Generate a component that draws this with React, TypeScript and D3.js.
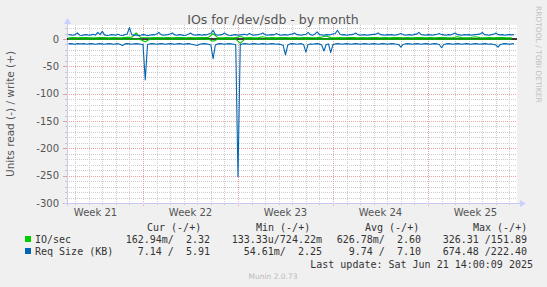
import React, { useEffect, useRef } from 'react';
import * as d3 from 'd3';

const WIDTH = 547;
const HEIGHT = 287;

// IO/sec sampled every 8 hours, Req Size every 4 hours, both from here
const seriesStart = new Date(2025, 4, 20, 12, 0);
const ioStepHours = 8;
const reqStepHours = 4;

const ioWrite = [
  2.4, 2.6, 2.3, 2.5, 2.8, 2.4, 2.3, 2.7, 2.5, 2.4,
  2.6, 2.3, 2.5, 2.9, 3.2, 11, 2.6, 2.4, 2.3, 2.5,
  2.7, 2.4, 2.6, 2.3, 2.5, 2.8, 2.4, 2.6, 2.3, 2.5,
  2.7, 3.0, 10, 2.5, 2.4, 2.6, 2.3, 2.5, 4.5, 2.4,
  2.6, 2.3, 2.5, 4.0, 2.4, 2.6, 2.3, 2.5, 2.7, 2.4,
  2.6, 2.3, 2.5, 2.8, 2.4, 2.6, 3.5, 5.5, 2.5, 2.4,
  2.6, 2.3, 2.5, 2.7, 2.4, 2.6, 2.3, 2.5, 2.8, 2.4,
  2.6, 2.3, 2.5, 2.7, 2.4, 2.6, 2.3, 2.5, 2.8, 2.4,
  2.6, 2.3, 2.5, 2.7, 2.4, 2.6, 4.2, 2.5, 2.4, 2.6,
  4.0, 2.5, 2.3, 2.6, 2.4, 2.5, 2.7, 2.3, 2.4
];

const ioRead = [
  -0.3, -0.2, -0.4, -0.2, -0.3, -0.2, -0.3, -0.5, -0.2, -0.3,
  -0.2, -0.4, -0.3, -0.2, -0.3, -0.2, -1.5, -5, -0.3, -0.2,
  -0.3, -0.2, -0.4, -0.2, -0.3, -0.2, -0.3, -0.4, -0.2, -0.3,
  -0.2, -0.6, -4, -0.3, -0.2, -0.3, -0.2, -0.4, -8, -0.3,
  -0.2, -0.3, -0.2, -0.4, -0.2, -0.3, -0.2, -0.3, -0.4, -0.2,
  -0.3, -0.2, -0.3, -0.2, -0.4, -0.2, -0.3, -0.2, -0.3, -0.2,
  -0.3, -0.2, -0.4, -0.2, -0.3, -0.2, -0.3, -0.2, -0.4, -0.2,
  -0.3, -0.2, -0.3, -0.2, -0.4, -0.2, -0.3, -0.2, -0.3, -0.2,
  -0.3, -0.2, -0.4, -0.2, -0.3, -0.2, -0.3, -0.2, -0.3, -0.2,
  -0.4, -0.2, -0.3, -0.2, -0.3, -0.2, -0.3, -0.2, -0.3
];

const reqWrite = [
  8, 7.5, 7, 8, 11, 7, 6.5, 7.5, 8, 7,
  7.5, 8.5, 7, 12, 8, 14, 7.5, 6.5, 7, 8,
  7.5, 7, 8.5, 7, 6.5, 8, 9, 21, 8, 7,
  7.5, 6.5, 7, 8, 7.5, 6, 7, 8, 7.5, 9,
  12, 8, 7, 7.5, 8, 9, 11, 7.5, 7, 8,
  7.5, 6.5, 7, 8.5, 11, 8, 7, 7.5, 8, 7,
  8, 7.5, 9, 10, 16, 8, 7, 7.5, 8, 11,
  8, 7, 6.5, 7.5, 8, 7, 7.5, 8, 8.5, 7,
  10, 8, 7, 7.5, 8, 9, 11, 8, 7, 7.5,
  8, 7.5, 10, 8, 7, 7.5, 8, 7, 8.5, 9,
  11, 8, 7.5, 7, 8, 8.5, 12, 8, 7, 9,
  13, 8, 7.5, 7, 8, 7.5, 8, 9, 10, 16,
  9, 7.5, 8, 7, 7.5, 8, 8.5, 11, 8, 7,
  7.5, 8, 7, 7.5, 8, 8.5, 9, 11, 8, 7.5,
  7, 8, 7.5, 8, 7, 7.5, 8.5, 10, 8, 7,
  7.5, 8, 7, 8.5, 9, 12, 8, 7.5, 7, 8,
  7.5, 7, 8, 8.5, 10, 8, 7.5, 7, 8, 7.5,
  9, 11, 8, 7.5, 7, 8, 7.5, 8, 7, 7.5,
  8, 8.5, 9, 12, 8, 7.5, 7, 8, 8.5, 11,
  8, 7.5, 8, 7, 7.5, 8, 7.5, 8
];

const reqRead = [
  -9, -8.5, -9, -9.5, -8.5, -9, -9, -8.5, -9.5, -9,
  -8.5, -9, -9.5, -9, -8.5, -9, -9.5, -9, -8.5, -9,
  -9.5, -9, -8.5, -10, -12, -9, -8.5, -9, -9.5, -9,
  -8.5, -9, -9.5, -10, -75, -10, -9, -8.5, -9, -9.5,
  -9, -8.5, -9, -9.5, -9, -8.5, -9, -9.5, -9, -8.5,
  -9, -9.5, -9, -8.5, -9, -10, -11, -12, -9.5, -9,
  -8.5, -9, -9.5, -11, -36, -11, -9, -8.5, -9, -9.5,
  -9, -8.5, -9, -9.5, -10, -252, -10, -9, -8.5, -9,
  -9.5, -9, -8.5, -9, -9.5, -9, -8.5, -9, -9.5, -9,
  -8.5, -9, -9.5, -9, -10, -12, -29, -11, -9, -8.5,
  -9, -9.5, -9, -8.5, -10, -24, -10, -9, -9.5, -9,
  -8.5, -9, -11, -22, -10, -9, -25, -10, -9, -8.5,
  -9, -9.5, -9, -8.5, -9, -9.5, -9, -8.5, -9, -9.5,
  -9, -8.5, -9, -9.5, -9, -8.5, -9, -9.5, -9, -8.5,
  -9, -9.5, -9, -8.5, -9, -9.5, -10, -15, -10, -9,
  -8.5, -9, -9.5, -9, -8.5, -9, -9.5, -9, -8.5, -9,
  -9.5, -9, -8.5, -9, -10, -16, -10, -9, -8.5, -9,
  -9.5, -9, -8.5, -9, -9.5, -9, -8.5, -9, -9.5, -9,
  -8.5, -9, -9.5, -9, -8.5, -9, -9.5, -9, -10, -11,
  -15, -10, -9, -8.5, -9, -9.5, -9, -8.5
];

const yTicks = [0, -50, -100, -150, -200, -250, -300];

const legendLabels = ['IO/sec', 'Req Size (KB)'];
const legendColors = ['#00cc00', '#0066b3'];
const legendHeaders = ['Cur (-/+)', 'Min (-/+)', 'Avg (-/+)', 'Max (-/+)'];
const curValues = ['162.94m/  2.32', '7.14 /  5.91'];
const minValues = ['133.33u/724.22m', '54.61m/  2.25'];
const avgValues = ['626.78m/  2.60', '9.74 /  7.10'];
const maxValues = ['326.31 /151.89', '674.48 /222.40'];

const App = () => {
  const svgRef = useRef<SVGSVGElement>(null);

  useEffect(() => {
    const svg = d3.select(svgRef.current);
    svg.selectAll('*').remove();

    const left = 67, right = 517, top = 25, bottom = 203;

    const x = d3.scaleTime()
      .domain([new Date(2025, 4, 20, 9, 36), new Date(2025, 5, 22, 13, 26)])
      .range([left, right]);
    const y = d3.scaleLinear().domain([-300, 22]).range([bottom, bottom - 322 * (164 / 300)]);

    const timeAt = (i: number, step: number) => new Date(seriesStart.getTime() + i * step * 3600 * 1000);

    svg.append('rect').attr('width', WIDTH).attr('height', HEIGHT).attr('fill', '#f0f0f0');
    svg.append('rect')
      .attr('x', left).attr('y', top)
      .attr('width', right - left).attr('height', bottom - top)
      .attr('fill', '#ffffff');

    // grid
    const grid = svg.append('g').attr('shape-rendering', 'crispEdges');
    const minorY = d3.range(-300, 21, 10).filter(v => v % 50 !== 0);
    grid.selectAll('.hminor').data(minorY).enter().append('line')
      .attr('x1', left).attr('x2', right)
      .attr('y1', d => Math.round(y(d)) + 0.5).attr('y2', d => Math.round(y(d)) + 0.5)
      .attr('stroke', '#cdcdcd').attr('stroke-dasharray', '1,1');

    const [t0, t1] = x.domain();
    const days = d3.timeDay.range(t0, t1).filter(d => d.getDay() !== 1);
    grid.selectAll('.vminor').data(days).enter().append('line')
      .attr('x1', d => Math.round(x(d)) + 0.5).attr('x2', d => Math.round(x(d)) + 0.5)
      .attr('y1', top).attr('y2', bottom)
      .attr('stroke', '#cdcdcd').attr('stroke-dasharray', '1,1');

    grid.selectAll('.hmajor').data(yTicks).enter().append('line')
      .attr('x1', left).attr('x2', right)
      .attr('y1', d => Math.round(y(d)) + 0.5).attr('y2', d => Math.round(y(d)) + 0.5)
      .attr('stroke', '#eca0a0').attr('stroke-dasharray', '1,1');

    const mondays = d3.timeMonday.range(t0, t1);
    grid.selectAll('.vmajor').data(mondays).enter().append('line')
      .attr('x1', d => Math.round(x(d)) + 0.5).attr('x2', d => Math.round(x(d)) + 0.5)
      .attr('y1', top).attr('y2', bottom + 3)
      .attr('stroke', '#eca0a0').attr('stroke-dasharray', '1,1');

    // axis ticks
    grid.selectAll('.ytick').data(d3.range(-300, 21, 10)).enter().append('line')
      .attr('x1', d => (d % 50 === 0 ? left - 4 : left - 2)).attr('x2', left)
      .attr('y1', d => Math.round(y(d)) + 0.5).attr('y2', d => Math.round(y(d)) + 0.5)
      .attr('stroke', d => (d % 50 === 0 ? '#e0a0a0' : '#c8c8c8'));
    grid.selectAll('.xtick').data(days).enter().append('line')
      .attr('x1', d => Math.round(x(d)) + 0.5).attr('x2', d => Math.round(x(d)) + 0.5)
      .attr('y1', bottom).attr('y2', bottom + 2)
      .attr('stroke', '#c8c8c8');

    // axes with arrows
    grid.append('line')
      .attr('x1', left - 3).attr('x2', right + 4)
      .attr('y1', bottom + 0.5).attr('y2', bottom + 0.5)
      .attr('stroke', '#c8c8f0');
    grid.append('line')
      .attr('x1', left + 0.5).attr('x2', left + 0.5)
      .attr('y1', bottom + 3).attr('y2', top - 2)
      .attr('stroke', '#c8c8f0');
    svg.append('path')
      .attr('d', `M${right + 3},${bottom - 3} L${right + 9},${bottom + 0.5} L${right + 3},${bottom + 4} Z`)
      .attr('fill', '#c8d0ff');
    svg.append('path')
      .attr('d', `M${left - 3},${top - 1} L${left + 0.5},${top - 7} L${left + 4},${top - 1} Z`)
      .attr('fill', '#c8d0ff');

    // zero line
    svg.append('line')
      .attr('x1', left).attr('x2', right)
      .attr('y1', y(0)).attr('y2', y(0))
      .attr('stroke', '#000').attr('stroke-width', 1.6);

    const drawSeries = (values: number[], step: number, color: string) => {
      const line = d3.line<number>()
        .x((_, i) => x(timeAt(i, step)))
        .y(d => y(d));
      svg.append('path')
        .datum(values)
        .attr('fill', 'none')
        .attr('stroke', color)
        .attr('stroke-width', 1.1)
        .attr('stroke-linejoin', 'round')
        .attr('d', line);
    };
    drawSeries(ioRead, ioStepHours, '#00cc00');
    drawSeries(reqRead, reqStepHours, '#0066b3');
    drawSeries(ioWrite, ioStepHours, '#00cc00');
    drawSeries(reqWrite, reqStepHours, '#0066b3');

    // y labels
    svg.append('g').selectAll('text').data(yTicks).enter().append('text')
      .attr('x', 59).attr('y', d => y(d) + 3.5)
      .attr('text-anchor', 'end')
      .attr('font-family', 'DejaVu Sans')
      .attr('font-size', 10)
      .attr('fill', '#555')
      .text(d => d);

    // x labels
    svg.append('g').selectAll('text').data(mondays.concat([d3.timeMonday.floor(t0)]).sort((a, b) => +a - +b))
      .enter().append('text')
      .attr('x', d => x(d3.timeHour.offset(d, 84)))
      .attr('y', 216)
      .attr('text-anchor', 'middle')
      .attr('font-family', 'DejaVu Sans')
      .attr('font-size', 10)
      .attr('fill', '#555')
      .text(d => `Week ${+d3.timeFormat('%V')(d)}`);

    // title
    svg.append('text')
      .attr('x', 273).attr('y', 24)
      .attr('text-anchor', 'middle')
      .attr('font-family', 'DejaVu Sans')
      .attr('font-size', 12.5)
      .attr('fill', '#555')
      .text('IOs for /dev/sdb - by month');

    svg.append('text')
      .attr('transform', 'translate(14,114) rotate(-90)')
      .attr('text-anchor', 'middle')
      .attr('font-family', 'DejaVu Sans')
      .attr('font-size', 10.5)
      .attr('fill', '#555')
      .text('Units read (-) / write (+)');

    svg.append('text')
      .attr('transform', 'translate(535.5,6) rotate(90)')
      .attr('font-family', 'DejaVu Sans')
      .attr('font-size', 7.5)
      .attr('fill', '#c0c0c0')
      .text('RRDTOOL / TOBI OETIKER');

    // legend
    const mono = 'DejaVu Sans Mono';
    const headerX = [147, 256, 365, 473];
    legendHeaders.forEach((h, i) => {
      svg.append('text')
        .attr('x', headerX[i]).attr('y', 231)
        .attr('font-family', mono).attr('font-size', 10)
        .attr('fill', '#333')
        .style('white-space', 'pre')
        .text(h);
    });
    const colEnds = [210, 322, 421, 527];
    legendLabels.forEach((label, r) => {
      const yy = 243 + r * 12;
      svg.append('rect')
        .attr('x', 25).attr('y', yy - 7)
        .attr('width', 6).attr('height', 6)
        .attr('fill', legendColors[r]);
      svg.append('text')
        .attr('x', 35).attr('y', yy)
        .attr('font-family', mono).attr('font-size', 10)
        .attr('fill', '#333')
        .text(label);
      [curValues[r], minValues[r], avgValues[r], maxValues[r]].forEach((v, c) => {
        svg.append('text')
          .attr('x', colEnds[c]).attr('y', yy)
          .attr('text-anchor', 'end')
          .attr('font-family', mono).attr('font-size', 10)
          .attr('fill', '#333')
          .style('white-space', 'pre')
          .text(v);
      });
    });

    svg.append('text')
      .attr('x', 533).attr('y', 267.5)
      .attr('text-anchor', 'end')
      .attr('font-family', mono).attr('font-size', 10)
      .attr('fill', '#333')
      .text('Last update: Sat Jun 21 14:00:09 2025');

    svg.append('text')
      .attr('x', 273).attr('y', 279)
      .attr('text-anchor', 'middle')
      .attr('font-family', 'DejaVu Sans')
      .attr('font-size', 7.5)
      .attr('fill', '#bbb')
      .text('Munin 2.0.73');
  }, []);

  return (
    <div style={{ position: 'absolute', left: 0, top: 0 }}>
      <style>{'body{margin:0}'}</style>
      <svg ref={svgRef} width={WIDTH} height={HEIGHT} style={{ display: 'block' }} />
    </div>
  );
};

export default App;
